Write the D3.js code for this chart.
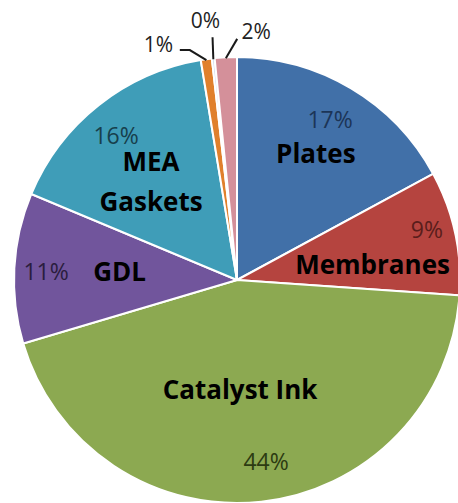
<!DOCTYPE html>
<html><head><meta charset="utf-8">
<script src="https://cdn.jsdelivr.net/npm/d3@7"></script>
<style>html,body{margin:0;padding:0;background:#fff;}svg{display:block;}</style>
</head><body>
<svg id="chart" width="458" height="503"></svg>
<script>
// ---- data ----
const categories = ["Plates", "Membranes", "Catalyst Ink", "GDL", "MEA Gaskets", "Other A", "Other B", "Other C"];
const values = [17.1, 9.0, 44.3, 10.9, 16.1, 0.8, 0.2, 1.6];
const nameLines = [["Plates"], ["Membranes"], ["Catalyst Ink"], ["GDL"], ["MEA", "Gaskets"], [], [], []];

// ---- style / layout ----
const colors = ["#4170a8", "#b5443f", "#8ca951", "#71559c", "#3f9db8", "#e0802c", "#c9d6e8", "#d4909a"];
const pctColors = ["#1c3557", "#5a1d1b", "#2c3b12", "#2b1d3e", "#173f4c", "#222", "#222", "#222"];
// inside percentage labels: [radius fraction, angle offset deg]
const pctPos = [[0.83, -0.6], [0.88, -2.4], [0.826, -2.8], [0.857, -0.7], [0.845, -1.6]];
// category name labels: [radius fraction, angle offset deg]
const namePos = [[0.668, 1.2], [0.612, 5.6], [0.491, 4.7], [0.528, 1.0], [0.585, -2.9]];
// outside labels for tiny slices: [radius fraction, angle offset deg], leader start points relative to label
const outPos = {5: [1.111, -10.6], 6: [1.171, -0.8], 7: [1.116, 7.3]};
const outLeader = {5: [[21.5, 5], [31.5, 5]], 6: [[7, 16.5]], 7: [[-19, 7]]};

const W = 458, H = 503, cx = 237, cy = 280, R = 223;
const svg = d3.select("#chart");
const g = svg.append("g").attr("transform", `translate(${cx},${cy})`);

const pie = d3.pie().sort(null).value(d => d);
const arcs = pie(values);
const arc = d3.arc().innerRadius(0).outerRadius(R);

g.selectAll("path.slice").data(arcs).join("path")
  .attr("class", "slice")
  .attr("d", arc)
  .attr("fill", (d, i) => colors[i])
  .attr("stroke", "#fff")
  .attr("stroke-width", 2)
  .attr("stroke-linejoin", "round");

const total = d3.sum(values);
const polar = (ang, r) => [r * Math.sin(ang), -r * Math.cos(ang)];
const mid = d => (d.startAngle + d.endAngle) / 2;
const rad = deg => deg * Math.PI / 180;
const fmt = v => Math.round(v / total * 100) + "%";

// inside percentages
arcs.forEach((d, i) => {
  if (!pctPos[i]) return;
  const [x, y] = polar(mid(d) + rad(pctPos[i][1]), R * pctPos[i][0]);
  g.append("text").attr("x", x).attr("y", y).attr("dy", "0.35em")
    .attr("text-anchor", "middle")
    .attr("font-family", "'Open Sans', sans-serif").attr("font-size", 23)
    .attr("fill", pctColors[i]).text(fmt(values[i]));
});

// category names
arcs.forEach((d, i) => {
  if (!namePos[i]) return;
  const [x, y] = polar(mid(d) + rad(namePos[i][1]), R * namePos[i][0]);
  const lines = nameLines[i];
  const lh = 40;
  const t = g.append("text").attr("text-anchor", "middle")
    .attr("font-family", "'Open Sans', sans-serif").attr("font-weight", 700)
    .attr("font-size", 26).attr("fill", "#000");
  lines.forEach((ln, k) => {
    t.append("tspan").attr("x", x)
      .attr("y", y + (k - (lines.length - 1) / 2) * lh)
      .attr("dy", "0.36em").text(ln);
  });
});

// outside labels with leaders
arcs.forEach((d, i) => {
  if (!outPos[i]) return;
  const [lx, ly] = polar(mid(d) + rad(outPos[i][1]), R * outPos[i][0]);
  const end = polar(mid(d), R - 1);
  const pts = outLeader[i].map(p => [lx + p[0], ly + p[1]]).concat([end]);
  g.append("path").attr("d", d3.line()(pts))
    .attr("fill", "none").attr("stroke", "#1a1a1a").attr("stroke-width", 2);
  g.append("text").attr("x", lx).attr("y", ly).attr("dy", "0.35em")
    .attr("text-anchor", "middle")
    .attr("font-family", "'Open Sans', sans-serif").attr("font-size", 21)
    .attr("fill", pctColors[i]).text(fmt(values[i]));
});
</script>
</body></html>
